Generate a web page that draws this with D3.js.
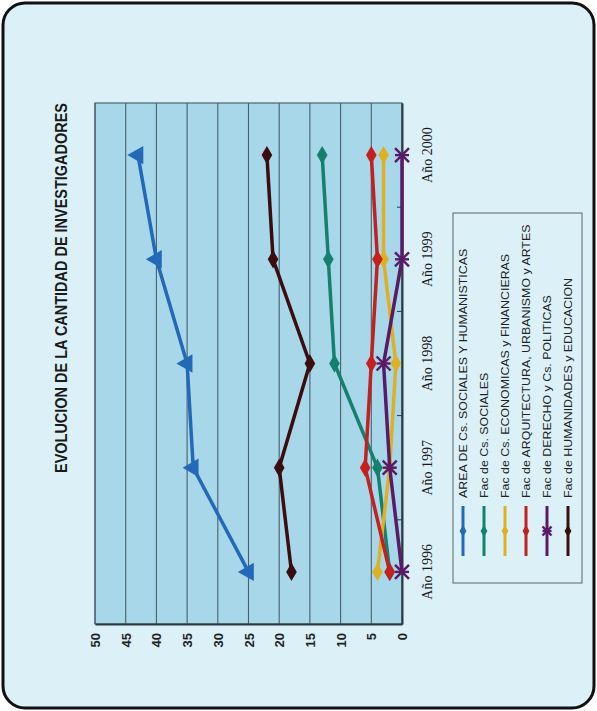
<!DOCTYPE html>
<html>
<head>
<meta charset="utf-8">
<script src="https://cdn.jsdelivr.net/npm/d3@7"></script>
<style>
  body { margin: 0; background: #fff; }
</style>
</head>
<body>
<svg></svg>
<script>
'use strict';
// values
var years = ['Año 1996', 'Año 1997', 'Año 1998', 'Año 1999', 'Año 2000'];
var valueTicks = [0, 5, 10, 15, 20, 25, 30, 35, 40, 45, 50];
var seriesNames = [
  'AREA DE Cs. SOCIALES Y HUMANISTICAS',
  'Fac de Cs. SOCIALES',
  'Fac de Cs. ECONOMICAS y FINANCIERAS',
  'Fac de ARQUITECTURA, URBANISMO y ARTES',
  'Fac de DERECHO y Cs. POLITICAS',
  'Fac de HUMANIDADES y EDUCACION'
];
var areaTotal    = [25, 34, 35, 40, 43];
var csSociales   = [2, 4, 11, 12, 13];
var economicas   = [4, 2, 1, 3, 3];
var arquitectura = [2, 6, 5, 4, 5];
var derecho      = [0, 2, 3, 0, 0];
var humanidades  = [18, 20, 15, 21, 22];

var seriesValues = [areaTotal, csSociales, economicas, arquitectura, derecho, humanidades];
var colors = ['#2468b8', '#16806e', '#e0b024', '#c4201e', '#5a1a66', '#3a0e10'];
var markers = ['triangle', 'diamond', 'diamond', 'diamond', 'star', 'diamond'];

var canvasWidth = 597;
var canvasHeight = 711;
var plot = { left: 95, right: 402, top: 103, bottom: 624 };

var svg = d3.select('svg')
  .attr('width', canvasWidth)
  .attr('height', canvasHeight);

// card background with rounded border
svg.append('rect')
  .attr('x', 3).attr('y', 3)
  .attr('width', canvasWidth - 6).attr('height', canvasHeight - 6)
  .attr('rx', 22)
  .attr('fill', '#dbf1f7')
  .attr('stroke', '#111')
  .attr('stroke-width', 3);

// chart is drawn turned on its side: values run right to left, years bottom to top
var xScale = d3.scaleLinear().domain([0, 50]).range([plot.right, plot.left]);
var yScale = d3.scaleBand().domain(years).range([plot.bottom, plot.top]);
var half = yScale.bandwidth() / 2;

svg.append('rect')
  .attr('x', plot.left).attr('y', plot.top)
  .attr('width', plot.right - plot.left)
  .attr('height', plot.bottom - plot.top)
  .attr('fill', '#a8d7ea')
  .attr('stroke', '#4d6470')
  .attr('stroke-width', 1.2);

// gridlines
svg.selectAll('.grid')
  .data(valueTicks)
  .enter().append('line')
  .attr('class', 'grid')
  .attr('x1', function(d) { return xScale(d); })
  .attr('x2', function(d) { return xScale(d); })
  .attr('y1', plot.top)
  .attr('y2', plot.bottom)
  .attr('stroke', '#48606c')
  .attr('stroke-width', 1.1);

// value axis (bottom)
var xAxis = svg.append('g')
  .attr('transform', 'translate(0,' + plot.bottom + ')')
  .call(d3.axisBottom(xScale).tickValues(valueTicks).tickSize(0).tickPadding(0));
xAxis.select('.domain').attr('stroke', '#2c3a40').attr('stroke-width', 2);
xAxis.selectAll('text')
  .attr('transform', 'rotate(-90)')
  .attr('x', -9)
  .attr('y', 0)
  .attr('dy', '.35em')
  .style('text-anchor', 'end')
  .style('font-family', 'Liberation Sans, Arial, sans-serif')
  .style('font-weight', 'bold')
  .style('font-size', '13px')
  .attr('fill', '#222');

// year axis (right)
var yAxis = svg.append('g')
  .attr('transform', 'translate(' + plot.right + ',0)')
  .call(d3.axisRight(yScale).tickSize(0).tickPadding(0));
yAxis.select('.domain').attr('stroke', '#2c3a40').attr('stroke-width', 2);
yAxis.selectAll('text')
  .attr('transform', 'rotate(-90)')
  .attr('x', 0)
  .attr('y', 25)
  .attr('dy', '.35em')
  .style('text-anchor', 'middle')
  .style('font-family', 'Liberation Serif, Times New Roman, serif')
  .style('font-size', '14px')
  .attr('fill', '#1a1a1a');

// small ticks on band boundaries
svg.selectAll('.ytick')
  .data(years.slice(0, years.length - 1))
  .enter().append('line')
  .attr('class', 'ytick')
  .attr('x1', plot.right - 5)
  .attr('x2', plot.right)
  .attr('y1', function(d) { return yScale(d); })
  .attr('y2', function(d) { return yScale(d); })
  .attr('stroke', '#2c3a40');

function drawMarker(g, type, color, size) {
  if (type == 'triangle') {
    g.append('path')
      .attr('d', d3.symbol(d3.symbolTriangle, size * size * 0.75)())
      .attr('transform', 'rotate(-90)')
      .attr('fill', color);
  } else if (type == 'star') {
    var r = size / 2;
    [[-r, -r, r, r], [-r, r, r, -r], [-r, 0, r, 0]].forEach(function(s) {
      g.append('line')
        .attr('x1', s[0]).attr('y1', s[1]).attr('x2', s[2]).attr('y2', s[3])
        .attr('stroke', color)
        .attr('stroke-width', 2.4);
    });
  } else {
    g.append('path')
      .attr('d', d3.symbol(d3.symbolDiamond, size * size * 0.5)())
      .attr('fill', color);
  }
}

var line = d3.line()
  .x(function(d) { return xScale(d.v); })
  .y(function(d) { return yScale(d.year) + half; });

seriesValues.forEach(function(vals, i) {
  var pts = vals.map(function(v, j) { return { year: years[j], v: v }; });
  var g = svg.append('g').attr('class', 'series');
  g.append('path')
    .datum(pts)
    .attr('d', line)
    .attr('fill', 'none')
    .attr('stroke', colors[i])
    .attr('stroke-width', 3.5);
  pts.forEach(function(p) {
    var m = g.append('g')
      .attr('transform', 'translate(' + xScale(p.v) + ',' + (yScale(p.year) + half) + ')');
    drawMarker(m, markers[i], colors[i], 14);
  });
});

// title
svg.append('text')
  .attr('transform', 'translate(67,288) rotate(-90)')
  .attr('text-anchor', 'middle')
  .attr('textLength', 370)
  .attr('lengthAdjust', 'spacingAndGlyphs')
  .style('font-family', 'Liberation Sans, Arial, sans-serif')
  .style('font-weight', 'bold')
  .style('font-size', '17px')
  .attr('fill', '#1a1a1a')
  .text('EVOLUCION DE LA CANTIDAD DE INVESTIGADORES');

// legend
svg.append('rect')
  .attr('x', 453).attr('y', 213)
  .attr('width', 129).attr('height', 370)
  .attr('fill', 'none')
  .attr('stroke', '#6b7c84')
  .attr('stroke-width', 1.2);

var legend = svg.selectAll('.legend')
  .data(seriesNames)
  .enter().append('g')
  .attr('class', 'legend')
  .attr('transform', function(d, i) { return 'translate(' + (463 + i * 21) + ',0)'; });

legend.append('line')
  .attr('x1', 0).attr('x2', 0)
  .attr('y1', 506).attr('y2', 556)
  .attr('stroke', function(d, i) { return colors[i]; })
  .attr('stroke-width', 3);

legend.each(function(d, i) {
  var m = d3.select(this).append('g').attr('transform', 'translate(0,531)');
  drawMarker(m, markers[i] == 'star' ? 'star' : 'diamond', colors[i], 9);
});

legend.append('text')
  .attr('transform', 'translate(0,498) rotate(-90) scale(1.18,1)')
  .attr('dy', '.35em')
  .style('text-anchor', 'start')
  .style('font-family', 'Liberation Sans, Arial, sans-serif')
  .style('font-size', '10.5px')
  .attr('fill', '#222')
  .text(function(d) { return d; });
</script>
</body>
</html>
